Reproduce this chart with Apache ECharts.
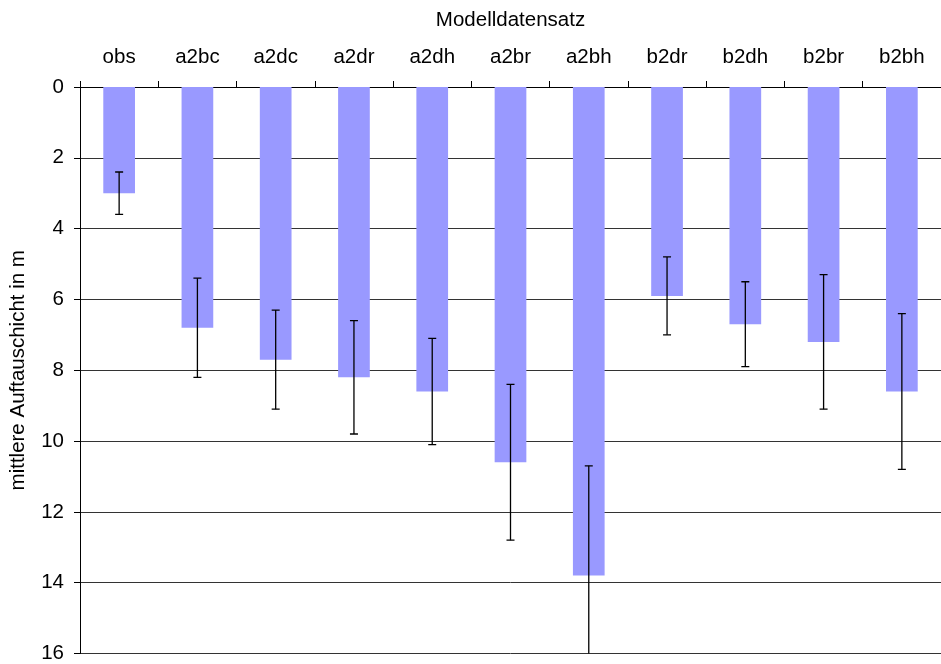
<!DOCTYPE html>
<html>
<head>
<meta charset="utf-8">
<script src="https://cdn.jsdelivr.net/npm/echarts@6/dist/echarts.min.js"></script>
<style>
  html, body { margin: 0; padding: 0; background: #fff; }
  #chart { width: 941px; height: 664px; }
</style>
</head>
<body>
<div id="chart"></div>
<script>
// Model datasets and mean active-layer depth (m) with error bar limits
const categories = ['obs', 'a2bc', 'a2dc', 'a2dr', 'a2dh', 'a2br', 'a2bh', 'b2dr', 'b2dh', 'b2br', 'b2bh'];
const depth      = [3.0, 6.8, 7.7, 8.2, 8.6, 10.6, 13.8, 5.9, 6.7, 7.2, 8.6];
const errLow     = [2.4, 5.4, 6.3, 6.6, 7.1, 8.4, 10.7, 4.8, 5.5, 5.3, 6.4];
const errHigh    = [3.6, 8.2, 9.1, 9.8, 10.1, 12.8, 16.9, 7.0, 7.9, 9.1, 10.8];
const yTicks     = [0, 2, 4, 6, 8, 10, 12, 14, 16];

const FONT = 'Liberation Sans, Arial, sans-serif';
const FS = 20.5;
const chart = echarts.init(document.getElementById('chart'), null, { renderer: 'canvas' });

const errData = categories.map((c, i) => [i, errLow[i], errHigh[i]]);

chart.setOption({
  animation: false,
  backgroundColor: '#ffffff',
  grid: { left: 80, right: -8, top: 87, bottom: 9 },
  xAxis: {
    type: 'category',
    data: categories,
    position: 'top',
    name: 'Modelldatensatz',
    nameLocation: 'middle',
    nameGap: 56,
    nameTextStyle: { fontFamily: FONT, fontSize: FS, color: '#000' },
    axisLine: { show: true, lineStyle: { color: '#000', width: 1 } },
    axisTick: { show: true, length: 6, lineStyle: { color: '#000' } },
    axisLabel: { fontFamily: FONT, fontSize: FS, color: '#000', margin: 19 },
    splitLine: { show: false }
  },
  yAxis: {
    type: 'value',
    inverse: true,
    min: yTicks[0],
    max: yTicks[yTicks.length - 1],
    interval: 2,
    name: 'mittlere Auftauschicht in m',
    nameLocation: 'middle',
    nameGap: 51,
    nameTextStyle: { fontFamily: FONT, fontSize: FS, color: '#000' },
    axisLine: { show: true, lineStyle: { color: '#000', width: 1 } },
    axisTick: { show: true, length: 6, lineStyle: { color: '#000' } },
    axisLabel: { fontFamily: FONT, fontSize: FS, color: '#000', margin: 16 },
    splitLine: { show: true, lineStyle: { color: '#333', width: 1 } }
  },
  series: [
    {
      type: 'bar',
      data: depth,
      barWidth: '40.5%',
      itemStyle: { color: '#9999ff' },
      z: 2
    },
    {
      type: 'custom',
      data: errData,
      clip: true,
      z: 3,
      renderItem: function (params, api) {
        const x = api.value(0);
        const top = api.coord([x, api.value(1)]);
        const bot = api.coord([x, api.value(2)]);
        const half = 4;
        const style = { stroke: '#000', lineWidth: 1.3 };
        return {
          type: 'group',
          children: [
            { type: 'line', shape: { x1: top[0], y1: top[1], x2: bot[0], y2: bot[1] }, style: style },
            { type: 'line', shape: { x1: top[0] - half, y1: top[1], x2: top[0] + half, y2: top[1] }, style: style },
            { type: 'line', shape: { x1: bot[0] - half, y1: bot[1], x2: bot[0] + half, y2: bot[1] }, style: style }
          ]
        };
      }
    }
  ]
});
</script>
</body>
</html>
